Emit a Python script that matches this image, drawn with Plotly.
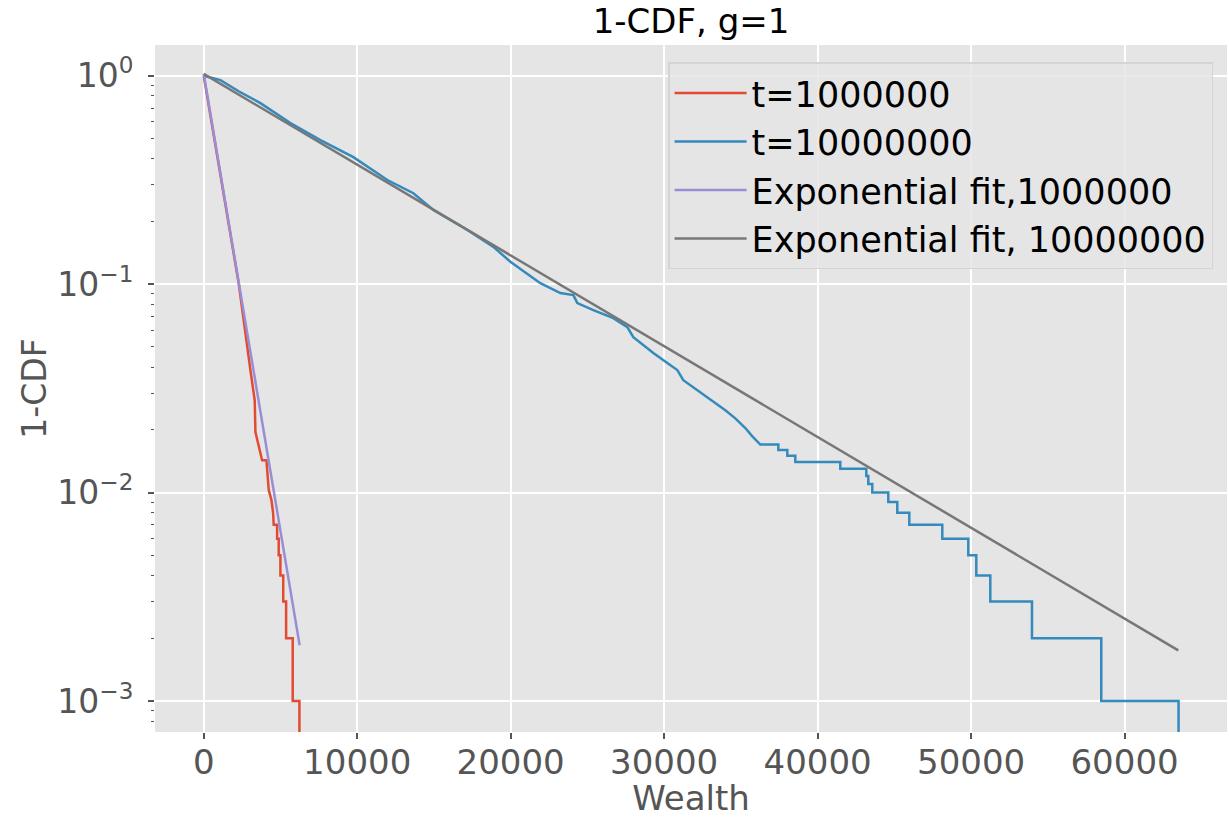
import plotly.graph_objects as go

# ---------------- data ----------------
# t = 1,000,000 : traced upper part of 1-CDF
red_upper_x = [0, 1100, 1700, 2280, 3042, 3322, 3368, 3583, 3805, 4085, 4235, 4411, 4520, 4560]
red_upper_y = [1.0, 0.335, 0.182, 0.1007, 0.0387, 0.0277, 0.0195, 0.0169, 0.0143, 0.0143, 0.0103, 0.0092, 0.008, 0.007]
# largest samples (each drops the 1-CDF by 1/1000), starting from level 0.007
red_tail_x = [4782, 4886, 4997, 5180, 5368, 5798, 6235]
red_tail_start = 0.007

# t = 10,000,000 : traced upper part of 1-CDF
blue_upper_x = [0, 1088, 2300, 3694, 5648, 7602, 9752, 11967, 13661, 14964, 17179, 18873,
                19980, 21934, 23237, 24084, 24345, 25387, 26690, 27602, 27993, 29296, 30208,
                30859, 31250, 32358, 33205, 33987, 34638, 35290, 35746, 36267]
blue_upper_y = [1.0, 0.953, 0.84, 0.739, 0.593, 0.491, 0.407, 0.316, 0.273, 0.227, 0.182, 0.151,
                0.128, 0.101, 0.0906, 0.0886, 0.0811, 0.0750, 0.0687, 0.0622, 0.0557, 0.0467, 0.0418,
                0.0387, 0.0346, 0.0303, 0.0274, 0.0248, 0.0227, 0.0204, 0.0186, 0.017]
blue_tail_x = [37440, 38026, 38547, 41479, 43172, 43302, 43563, 44606, 45192, 45974,
               48124, 49818, 50339, 51251, 53968, 58482, 63518]
blue_tail_start = 0.017

step_size = 0.001
floor_value = 1e-6  # 1-CDF reaches 0 -> drawn below the axis bottom

# exponential fits (straight lines on log axis): end points
fit1_x = [0, 6250]
fit1_y = [1.02, 0.00185]
fit2_x = [0, 63500]
fit2_y = [1.02, 0.00175]

x_ticks = [0, 10000, 20000, 30000, 40000, 50000, 60000]
x_ticklabels = ["0", "10000", "20000", "30000", "40000", "50000", "60000"]
y_ticks = [0.001, 0.01, 0.1, 1]
y_ticklabels = ["10<sup>−3</sup>", "10<sup>−2</sup>", "10<sup>−1</sup>", "10<sup>0</sup>"]

names = ["t=1000000", "t=10000000", "Exponential fit,1000000", "Exponential fit, 10000000"]
colors = ["#E24A33", "#348ABD", "#988ED5", "#777777"]


def survival_curve(upper_x, upper_y, tail_x, start):
    xs = list(upper_x)
    ys = list(upper_y)
    level = start
    for tx in tail_x:
        xs.append(tx)
        ys.append(level)
        level = round(level - step_size, 6)
        xs.append(tx)
        ys.append(level if level > 0 else floor_value)
    return xs, ys


rx, ry = survival_curve(red_upper_x, red_upper_y, red_tail_x, red_tail_start)
bx, by = survival_curve(blue_upper_x, blue_upper_y, blue_tail_x, blue_tail_start)

FONT = "DejaVu Sans"
LW = 2.5

fig = go.Figure()
fig.add_trace(go.Scatter(x=rx, y=ry, mode="lines", name=names[0],
                         line=dict(color=colors[0], width=LW)))
fig.add_trace(go.Scatter(x=bx, y=by, mode="lines", name=names[1],
                         line=dict(color=colors[1], width=LW)))
fig.add_trace(go.Scatter(x=fit1_x, y=fit1_y, mode="lines", name=names[2],
                         line=dict(color=colors[2], width=LW)))
fig.add_trace(go.Scatter(x=fit2_x, y=fit2_y, mode="lines", name=names[3],
                         line=dict(color=colors[3], width=LW)))

minor_vals = []
for d in [-4, -3, -2, -1, 0]:
    for k in range(2, 10):
        minor_vals.append(k * 10.0 ** d)

fig.update_layout(
    width=1229, height=818,
    margin=dict(l=155, r=2, t=45, b=86, autoexpand=False),
    paper_bgcolor="white",
    plot_bgcolor="#E5E5E5",
    font=dict(family=FONT, color="#555555"),
    title=dict(text="1-CDF, g=1", x=0.5, xref="paper", xanchor="center",
               y=1 - 21 / 818, yref="container", yanchor="middle",
               font=dict(family=FONT, size=34, color="black")),
    showlegend=True,
    legend=dict(x=0.987, xanchor="right", y=0.975, yanchor="top",
                bgcolor="rgba(229,229,229,0.85)", bordercolor="#d4d4d4", borderwidth=1.5,
                font=dict(family=FONT, size=35, color="black"),
                itemwidth=72, tracegroupgap=0),
)

fig.update_xaxes(
    range=[-3175, 66675], automargin=True,
    tickmode="array", tickvals=x_ticks, ticktext=x_ticklabels,
    ticks="outside", ticklen=6, tickwidth=1.5, tickcolor="#555555",
    ticklabelstandoff=-6,
    tickfont=dict(family=FONT, size=34, color="#555555"),
    showgrid=True, gridcolor="white", gridwidth=1.7,
    zeroline=False, showline=False,
    title=dict(text="Wealth", standoff=8, font=dict(family=FONT, size=34, color="#555555")),
)

fig.update_yaxes(
    type="log", automargin=True,
    range=[-3.1488, 0.1474],
    tickmode="array", tickvals=y_ticks, ticktext=y_ticklabels,
    ticks="outside", ticklen=6, tickwidth=1.5, tickcolor="#555555",
    ticklabelstandoff=8,
    tickfont=dict(family=FONT, size=33, color="#555555"),
    showgrid=True, gridcolor="white", gridwidth=1.7,
    zeroline=False, showline=False,
    minor=dict(tickmode="array", tickvals=minor_vals, ticks="outside", ticklen=3,
               tickwidth=1, tickcolor="#555555", showgrid=False),
    title=dict(text="1-CDF", standoff=0, font=dict(family=FONT, size=33, color="#555555")),
)

fig.write_html("out.html")
